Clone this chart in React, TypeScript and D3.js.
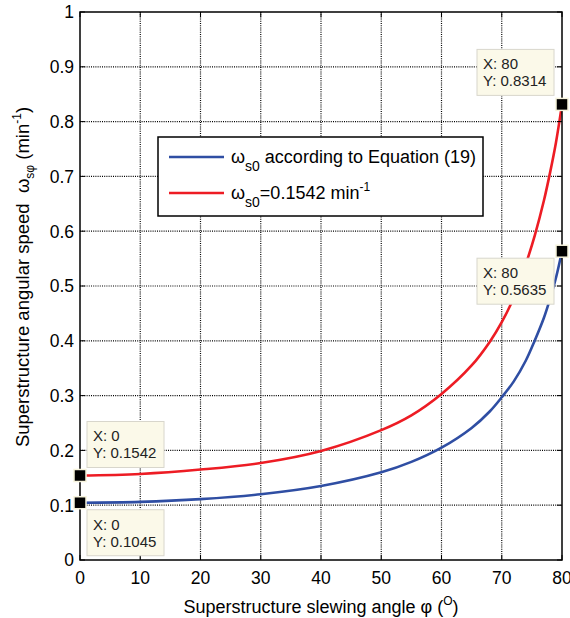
import React from "react";
import * as d3 from "d3";

const angles = [0, 10, 20, 30, 40, 50, 55, 60, 65, 68, 70, 72, 74, 75.5, 77, 78, 79, 80];
const redValues = [0.1542, 0.157, 0.165, 0.177, 0.199, 0.237, 0.264, 0.303, 0.355, 0.398, 0.434, 0.479, 0.54, 0.593, 0.656, 0.706, 0.762, 0.8314];
const blueValues = [0.1045, 0.106, 0.111, 0.12, 0.135, 0.16, 0.179, 0.205, 0.241, 0.271, 0.297, 0.326, 0.364, 0.401, 0.442, 0.476, 0.515, 0.5635];
const xTicks = [0, 10, 20, 30, 40, 50, 60, 70, 80];
const yTicks = [0, 0.1, 0.2, 0.3, 0.4, 0.5, 0.6, 0.7, 0.8, 0.9, 1];
const markers = [
  { x: 0, y: 0.1542, box: "above" },
  { x: 0, y: 0.1045, box: "below" },
  { x: 80, y: 0.8314, box: "leftAbove" },
  { x: 80, y: 0.5635, box: "leftBelow" },
];

const FONT = "'Liberation Sans', Arial, Helvetica, sans-serif";
const BLUE = "#2f4ea3";
const RED = "#ed1c24";

export default function App() {
  const L = 80, R = 562, T = 12, B = 560;
  const x = d3.scaleLinear().domain([0, 80]).range([L, R]);
  const y = d3.scaleLinear().domain([0, 1]).range([B, T]);
  const line = d3
    .line<number>()
    .x((_, i) => x(angles[i]))
    .y((d) => y(d))
    .curve(d3.curveCatmullRom.alpha(0.5));

  const boxW = 77, boxH = 46;
  const boxPos = (m: { x: number; y: number; box: string }) => {
    const px = x(m.x), py = y(m.y);
    if (m.box === "above") return [px + 7, py - 54];
    if (m.box === "below") return [px + 7, py + 7];
    if (m.box === "leftAbove") return [px - 85, py - 55];
    return [px - 85, py + 7];
  };

  return (
    <svg width={570} height={618} style={{ position: "absolute", left: 0, top: 0, background: "#fff" }} fontFamily={FONT}>
      <rect x={0} y={0} width={570} height={618} fill="#fff" />
      {/* grid */}
      {xTicks.slice(1, -1).map((t) => (
        <line key={"gx" + t} x1={x(t)} x2={x(t)} y1={T} y2={B} stroke="#000" strokeWidth={1.2} strokeDasharray="1,1.2" />
      ))}
      {yTicks.slice(1, -1).map((t) => (
        <line key={"gy" + t} x1={L} x2={R} y1={y(t)} y2={y(t)} stroke="#000" strokeWidth={1.2} strokeDasharray="1,1.2" />
      ))}
      {/* curves */}
      <path d={line(blueValues) || ""} fill="none" stroke={BLUE} strokeWidth={2.6} />
      <path d={line(redValues) || ""} fill="none" stroke={RED} strokeWidth={2.6} />
      {/* axes box */}
      <rect x={L} y={T} width={R - L} height={B - T} fill="none" stroke="#000" strokeWidth={1.5} />
      {xTicks.map((t) => (
        <g key={"xt" + t}>
          <line x1={x(t)} x2={x(t)} y1={B} y2={B - 5} stroke="#000" />
          <line x1={x(t)} x2={x(t)} y1={T} y2={T + 5} stroke="#000" />
          <text x={x(t)} y={584} fontSize={17.5} textAnchor="middle" fill="#000">{t}</text>
        </g>
      ))}
      {yTicks.map((t) => (
        <g key={"yt" + t}>
          <line x1={L} x2={L + 5} y1={y(t)} y2={y(t)} stroke="#000" />
          <line x1={R} x2={R - 5} y1={y(t)} y2={y(t)} stroke="#000" />
          <text x={74} y={y(t)} dy="0.36em" fontSize={17.5} textAnchor="end" fill="#000">{d3.format("~g")(t)}</text>
        </g>
      ))}
      {/* axis labels */}
      <text x={(L + R) / 2} y={613} fontSize={18} textAnchor="middle" fill="#000">
        Superstructure slewing angle φ (<tspan fontSize={12} dy={-8}>O</tspan><tspan dy={8}>)</tspan>
      </text>
      <text transform={`translate(29, 277) rotate(-90)`} fontSize={18.5} textAnchor="middle" fill="#000" xmlSpace="preserve">
        Superstructure angular speed  ω<tspan fontSize={12} dy={5}>sφ</tspan>
        <tspan dy={-5}> (min</tspan>
        <tspan fontSize={12} dy={-8}>-1</tspan>
        <tspan dy={8}>)</tspan>
      </text>
      {/* legend */}
      <rect x={158} y={137} width={325} height={79} fill="#fff" stroke="#000" strokeWidth={1.5} />
      <line x1={169} x2={224} y1={157} y2={157} stroke={BLUE} strokeWidth={2.6} />
      <line x1={169} x2={224} y1={193} y2={193} stroke={RED} strokeWidth={2.6} />
      <text x={231} y={163} fontSize={18} fill="#000">
        ω<tspan fontSize={14} dy={8}>s0</tspan><tspan dy={-8}> according to Equation (19)</tspan>
      </text>
      <text x={231} y={199} fontSize={18} fill="#000">
        ω<tspan fontSize={14} dy={8}>s0</tspan><tspan dy={-8}>=0.1542 min</tspan>
        <tspan fontSize={12} dy={-8}>-1</tspan>
      </text>
      {/* data tips */}
      {markers.map((m, i) => {
        const [bx, by] = boxPos(m);
        return (
          <g key={"m" + i}>
            <rect x={bx} y={by} width={boxW} height={boxH} fill="#fbf9e9" stroke="#d8d6cc" strokeWidth={1} />
            <text x={bx + 6} y={by + 20} fontSize={15} fill="#222">X: {m.x}</text>
            <text x={bx + 6} y={by + 37} fontSize={15} fill="#222">Y: {d3.format(".4f")(m.y)}</text>
            <rect x={x(m.x) - 6} y={y(m.y) - 6} width={12} height={12} fill="#000" stroke="#f6f3dc" strokeWidth={1.5} />
          </g>
        );
      })}
    </svg>
  );
}
